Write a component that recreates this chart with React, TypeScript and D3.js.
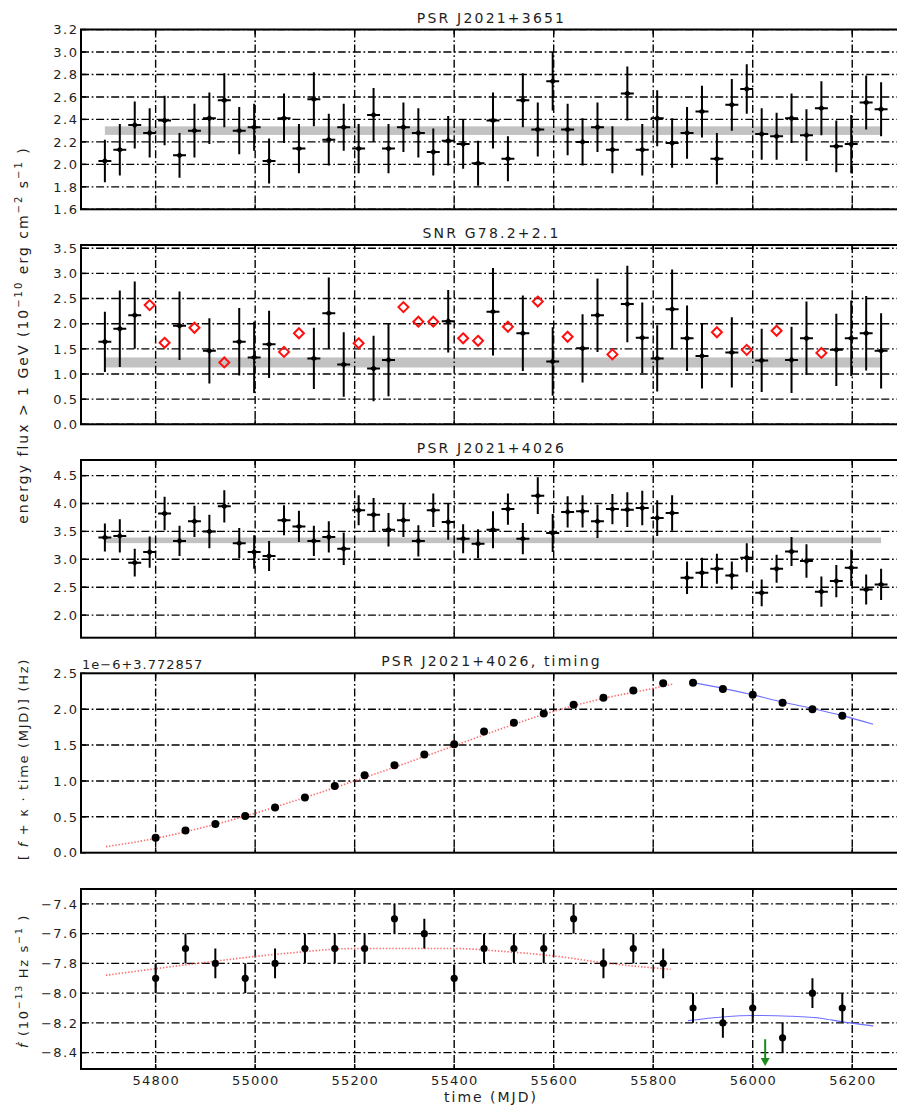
import React from "react";
import * as d3 from "d3";

// ---------------------------------------------------------------------------
// Data
// ---------------------------------------------------------------------------

// 30-day light-curve bins (MJD of bin centre)
const binTimes = [
  54698, 54728, 54758, 54788, 54818, 54848, 54878, 54908, 54938, 54968,
  54998, 55028, 55058, 55088, 55118, 55148, 55178, 55208, 55238, 55268,
  55298, 55328, 55358, 55388, 55418, 55448, 55478, 55508, 55538, 55568,
  55598, 55628, 55658, 55688, 55718, 55748, 55778, 55808, 55838, 55868,
  55898, 55928, 55958, 55988, 56018, 56048, 56078, 56108, 56138, 56168,
  56198, 56228, 56258,
];
const binHalfWidth = 13;

// PSR J2021+3651 energy flux (1e-10 erg cm^-2 s^-1)
const psr3651Flux = [
  2.03, 2.13, 2.35, 2.28, 2.39, 2.08, 2.30, 2.41, 2.57, 2.30,
  2.33, 2.03, 2.41, 2.14, 2.58, 2.22, 2.33, 2.14, 2.44, 2.14,
  2.33, 2.28, 2.11, 2.21, 2.18, 2.01, 2.39, 2.05, 2.57, 2.31,
  2.74, 2.31, 2.20, 2.33, 2.13, 2.63, 2.13, 2.41, 2.19, 2.28,
  2.47, 2.05, 2.53, 2.67, 2.27, 2.25, 2.41, 2.26, 2.50, 2.16,
  2.18, 2.55, 2.49,
];
const psr3651Err = [
  0.19, 0.23, 0.21, 0.22, 0.22, 0.20, 0.24, 0.23, 0.24, 0.21,
  0.21, 0.20, 0.22, 0.22, 0.24, 0.23, 0.21, 0.22, 0.24, 0.22,
  0.22, 0.22, 0.21, 0.22, 0.22, 0.20, 0.25, 0.20, 0.24, 0.24,
  0.26, 0.23, 0.21, 0.22, 0.21, 0.24, 0.23, 0.25, 0.22, 0.23,
  0.23, 0.23, 0.23, 0.22, 0.23, 0.21, 0.22, 0.23, 0.24, 0.23,
  0.26, 0.24, 0.24,
];
const psr3651Mean = 2.30;
const psr3651MeanErr = 0.038;

// SNR G78.2+2.1 energy flux; null error = bin shown as open red diamond
const snrFlux = [
  1.64, 1.90, 2.17, 2.37, 1.62, 1.96, 1.92, 1.46, 1.23, 1.64,
  1.33, 1.59, 1.44, 1.81, 1.31, 2.21, 1.19, 1.61, 1.11, 1.28,
  2.33, 2.04, 2.04, 2.05, 1.71, 1.66, 2.24, 1.94, 1.81, 2.44,
  1.25, 1.74, 1.51, 2.17, 1.39, 2.39, 1.72, 1.31, 2.29, 1.71,
  1.36, 1.83, 1.43, 1.48, 1.27, 1.86, 1.28, 1.71, 1.42, 1.48,
  1.71, 1.81, 1.46,
];
const snrErr: (number | null)[] = [
  0.60, 0.76, 0.67, null, null, 0.68, null, 0.65, null, 0.67,
  0.71, 0.67, null, null, 0.61, 0.71, 0.64, null, 0.65, 0.72,
  null, null, null, 0.62, null, null, 0.87, null, 0.75, null,
  0.68, null, 0.68, 0.73, null, 0.76, 0.70, 0.66, 0.79, 0.65,
  0.65, null, 0.70, null, 0.63, null, 0.66, 0.73, null, 0.72,
  0.75, 0.74, 0.75,
];
const snrMean = 1.23;
const snrMeanErr = 0.1;

// PSR J2021+4026 energy flux
const psr4026Flux = [
  3.39, 3.42, 2.94, 3.13, 3.82, 3.33, 3.68, 3.50, 3.95, 3.29,
  3.13, 3.06, 3.70, 3.59, 3.33, 3.40, 3.19, 3.88, 3.80, 3.53,
  3.70, 3.33, 3.88, 3.67, 3.37, 3.28, 3.53, 3.90, 3.37, 4.14,
  3.47, 3.85, 3.86, 3.68, 3.90, 3.89, 3.92, 3.74, 3.83, 2.67,
  2.76, 2.83, 2.71, 3.03, 2.40, 2.83, 3.14, 2.97, 2.42, 2.61,
  2.85, 2.46, 2.55,
];
const psr4026Err = [
  0.25, 0.30, 0.25, 0.28, 0.30, 0.27, 0.28, 0.30, 0.29, 0.27,
  0.30, 0.27, 0.27, 0.28, 0.27, 0.28, 0.29, 0.27, 0.30, 0.30,
  0.30, 0.28, 0.30, 0.32, 0.26, 0.26, 0.33, 0.28, 0.28, 0.33,
  0.34, 0.28, 0.29, 0.30, 0.27, 0.31, 0.31, 0.32, 0.32, 0.29,
  0.27, 0.27, 0.25, 0.26, 0.24, 0.25, 0.26, 0.30, 0.27, 0.29,
  0.33, 0.27, 0.28,
];
const psr4026Mean = 3.34;
const psr4026MeanErr = 0.05;

// Timing solutions, 60-day spacing
const timingEpochs = [
  54800, 54860, 54920, 54980, 55040, 55100, 55160, 55220, 55280, 55340,
  55400, 55460, 55520, 55580, 55640, 55700, 55760, 55820, 55880, 55940,
  56000, 56060, 56120, 56180,
];
// f + kappa*t, in units of 1e-6 Hz above 3.772857 Hz
const freqOffset = [
  0.21, 0.31, 0.40, 0.51, 0.63, 0.77, 0.93, 1.08, 1.22, 1.37,
  1.51, 1.69, 1.81, 1.94, 2.06, 2.16, 2.26, 2.36, 2.37, 2.28,
  2.20, 2.09, 2.00, 1.91,
];
const freqFitBefore: [number, number][] = [
  [54700, 0.085], [54800, 0.20], [54900, 0.36], [55000, 0.55], [55100, 0.77],
  [55200, 1.00], [55300, 1.24], [55400, 1.49], [55500, 1.74], [55600, 1.97],
  [55700, 2.15], [55800, 2.29], [55840, 2.35],
];
const freqFitAfter: [number, number][] = [
  [55880, 2.37], [55940, 2.29], [56000, 2.20], [56060, 2.10], [56120, 2.01],
  [56180, 1.91], [56242, 1.79],
];

// Spin-down rate (1e-13 Hz/s)
const fdot = [
  -7.9, -7.7, -7.8, -7.9, -7.8, -7.7, -7.7, -7.7, -7.5, -7.6,
  -7.9, -7.7, -7.7, -7.7, -7.5, -7.8, -7.7, -7.8, -8.1, -8.2,
  -8.1, -8.3, -8.0, -8.1,
];
const fdotErr = [
  0.1, 0.1, 0.1, 0.1, 0.1, 0.1, 0.1, 0.1, 0.1, 0.1,
  0.09, 0.1, 0.1, 0.1, 0.1, 0.1, 0.1, 0.1, 0.1, 0.1,
  0.1, 0.1, 0.1, 0.1,
];
const fdotFitBefore: [number, number][] = [
  [54700, -7.88], [54860, -7.81], [55070, -7.73], [55200, -7.70], [55400, -7.70],
  [55500, -7.72], [55600, -7.75], [55710, -7.80], [55835, -7.84],
];
const fdotFitAfter: [number, number][] = [
  [55870, -8.185], [55940, -8.16], [56000, -8.15], [56075, -8.155], [56140, -8.17],
  [56175, -8.19], [56242, -8.22],
];
const glitchEpoch = 56025;
const glitchArrow: [number, number] = [-8.31, -8.49];

const xTickValues = [54800, 55000, 55200, 55400, 55600, 55800, 56000, 56200];

// ---------------------------------------------------------------------------
// Layout / style
// ---------------------------------------------------------------------------

const W = 897;
const H = 1110;
const FONT = "'DejaVu Sans', Verdana, sans-serif";
const INK = "#1e1e1e";
const GRID_DASH = "8,2.7,1.7,2.7";

const x = d3.scaleLinear().domain([54650, 56300]).range([81, 902]);
const [X0, X1] = x.range();

type Y = d3.ScaleLinear<number, number>;

type PanelProps = {
  id: string;
  top: number;
  bottom: number;
  domain: [number, number];
  ticks: number[];
  fmt: (v: number) => string;
  title?: string;
  xLabels?: boolean;
  under?: (y: Y) => React.ReactNode;
  marks: (y: Y) => React.ReactNode;
};

function Panel({ id, top, bottom, domain, ticks, fmt, title, xLabels, under, marks }: PanelProps) {
  const y = d3.scaleLinear().domain(domain).range([bottom, top]);
  const tickLen = 5;
  return (
    <g>
      <clipPath id={id}>
        <rect x={X0} y={top} width={X1 - X0} height={bottom - top} />
      </clipPath>
      <g clipPath={`url(#${id})`}>
        {under && under(y)}
        {/* dash-dot grid */}
        {ticks.map((t) => (
          <line key={`h${t}`} x1={X0} x2={X1} y1={y(t)} y2={y(t)}
            stroke="#000" strokeWidth={1.4} strokeDasharray={GRID_DASH} />
        ))}
        {xTickValues.map((t) => (
          <line key={`v${t}`} x1={x(t)} x2={x(t)} y1={top} y2={bottom}
            stroke="#000" strokeWidth={1.4} strokeDasharray={GRID_DASH} />
        ))}
        {marks(y)}
      </g>
      {/* inward ticks */}
      {ticks.map((t) => (
        <g key={`t${t}`} stroke="#000" strokeWidth={1.4}>
          <line x1={X0} x2={X0 + tickLen} y1={y(t)} y2={y(t)} />
          <line x1={X1} x2={X1 - tickLen} y1={y(t)} y2={y(t)} />
        </g>
      ))}
      {xTickValues.map((t) => (
        <g key={`xt${t}`} stroke="#000" strokeWidth={1.4}>
          <line x1={x(t)} x2={x(t)} y1={top} y2={top + tickLen} />
          <line x1={x(t)} x2={x(t)} y1={bottom} y2={bottom - tickLen} />
        </g>
      ))}
      <rect x={X0} y={top} width={X1 - X0} height={bottom - top} fill="none" stroke="#000" strokeWidth={2} />
      {/* y tick labels */}
      {ticks.map((t) => (
        <text key={`l${t}`} x={77 + 1.5} y={y(t)} dy="0.36em" textAnchor="end"
          fontSize={13} letterSpacing={1.5} fill={INK}>
          {fmt(t)}
        </text>
      ))}
      {xLabels &&
        xTickValues.map((t) => (
          <text key={`xl${t}`} x={x(t) + 0.6} y={bottom + 16} textAnchor="middle"
            fontSize={13} letterSpacing={1.2} fill={INK}>
            {d3.format("d")(t)}
          </text>
        ))}
      {title && (
        <text x={(X0 + X1) / 2} y={top - 7} textAnchor="middle" fontSize={14}
          letterSpacing={2.2} fill={INK}>
          {title}
        </text>
      )}
    </g>
  );
}

// Light-curve marks: cross-shaped error bars plus a small filled diamond
function fluxMarks(values: number[], errs: (number | null)[], y: Y) {
  return values.map((v, i) => {
    const t = binTimes[i];
    const e = errs[i];
    const cx = x(t);
    const cy = y(v);
    if (e === null) {
      const r = 5;
      return (
        <path key={i} d={`M${cx},${cy - r}L${cx + r},${cy}L${cx},${cy + r}L${cx - r},${cy}Z`}
          fill="none" stroke="#ff1010" strokeWidth={2} />
      );
    }
    const rx = 3.6;
    const ry = 3.2;
    return (
      <g key={i}>
        <line x1={cx} x2={cx} y1={y(v - e)} y2={y(v + e)} stroke="#000" strokeWidth={2} />
        <line x1={x(t - binHalfWidth)} x2={x(t + binHalfWidth)} y1={cy} y2={cy} stroke="#000" strokeWidth={2} />
        <path d={`M${cx},${cy - ry}L${cx + rx},${cy}L${cx},${cy + ry}L${cx - rx},${cy}Z`} fill="#000" />
      </g>
    );
  });
}

function meanBand(mean: number, err: number, y: Y) {
  const t0 = binTimes[0];
  const t1 = binTimes[binTimes.length - 1];
  return (
    <rect x={x(t0)} width={x(t1) - x(t0)} y={y(mean + err)} height={y(mean - err) - y(mean + err)}
      fill="#c2c2c2" />
  );
}

function curve(pts: [number, number][], y: Y) {
  return d3
    .line<[number, number]>()
    .x((d) => x(d[0]))
    .y((d) => y(d[1]))
    .curve(d3.curveMonotoneX)(pts) as string;
}

const f1 = d3.format(".1f");

export default function App() {
  return (
    <div style={{ position: "absolute", left: 0, top: 0, width: W, height: H, background: "#fff" }}>
      <svg width={W} height={H} style={{ display: "block", fontFamily: FONT }}>
        <rect width={W} height={H} fill="#fff" />

        <Panel
          id="p1" top={29.5} bottom={209.3} domain={[1.6, 3.2]}
          ticks={[1.6, 1.8, 2.0, 2.2, 2.4, 2.6, 2.8, 3.0, 3.2]} fmt={f1}
          title="PSR J2021+3651"
          under={(y) => meanBand(psr3651Mean, psr3651MeanErr, y)}
          marks={(y) => fluxMarks(psr3651Flux, psr3651Err, y)}
        />
        <Panel
          id="p2" top={245} bottom={424.3} domain={[0, 3.565]}
          ticks={[0, 0.5, 1.0, 1.5, 2.0, 2.5, 3.0, 3.5]} fmt={f1}
          title="SNR G78.2+2.1"
          under={(y) => meanBand(snrMean, snrMeanErr, y)}
          marks={(y) => fluxMarks(snrFlux, snrErr, y)}
        />
        <Panel
          id="p3" top={460} bottom={637.7} domain={[1.595, 4.78]}
          ticks={[2.0, 2.5, 3.0, 3.5, 4.0, 4.5]} fmt={f1}
          title="PSR J2021+4026"
          under={(y) => meanBand(psr4026Mean, psr4026MeanErr, y)}
          marks={(y) => fluxMarks(psr4026Flux, psr4026Err, y)}
        />
        <Panel
          id="p4" top={673.3} bottom={852.7} domain={[0, 2.5]}
          ticks={[0, 0.5, 1.0, 1.5, 2.0, 2.5]} fmt={f1}
          title="PSR J2021+4026, timing"
          marks={(y) => (
            <g>
              <path d={curve(freqFitBefore, y)} fill="none" stroke="#ff3b3b" strokeOpacity={0.75}
                strokeWidth={1.6} strokeDasharray="1.4,1.8" />
              <path d={curve(freqFitAfter, y)} fill="none" stroke="#6f6fff" strokeWidth={1.1} />
              {freqOffset.map((v, i) => (
                <circle key={i} cx={x(timingEpochs[i])} cy={y(v)} r={4} fill="#000" />
              ))}
            </g>
          )}
        />
        <Panel
          id="p5" top={889} bottom={1069} domain={[-8.51, -7.3]}
          ticks={[-8.4, -8.2, -8.0, -7.8, -7.6, -7.4]} fmt={f1}
          xLabels
          marks={(y) => (
            <g>
              <path d={curve(fdotFitBefore, y)} fill="none" stroke="#ff3b3b" strokeOpacity={0.75}
                strokeWidth={1.6} strokeDasharray="1.4,1.8" />
              <path d={curve(fdotFitAfter, y)} fill="none" stroke="#6f6fff" strokeWidth={1.1} />
              {fdot.map((v, i) => (
                <g key={i}>
                  <line x1={x(timingEpochs[i])} x2={x(timingEpochs[i])} y1={y(v - fdotErr[i])}
                    y2={y(v + fdotErr[i])} stroke="#000" strokeWidth={2} />
                  <circle cx={x(timingEpochs[i])} cy={y(v)} r={3.6} fill="#000" />
                </g>
              ))}
              {/* glitch epoch marker */}
              <line x1={x(glitchEpoch)} x2={x(glitchEpoch)} y1={y(glitchArrow[0])}
                y2={y(glitchArrow[1]) - 7} stroke="#1b8a1b" strokeWidth={2} />
              <path
                d={`M${x(glitchEpoch) - 4.5},${y(glitchArrow[1]) - 8}L${x(glitchEpoch) + 4.5},${y(glitchArrow[1]) - 8}L${x(glitchEpoch)},${y(glitchArrow[1])}Z`}
                fill="#1b8a1b" />
            </g>
          )}
        />

        {/* axis offset for the timing panel */}
        <text x={82} y={669} fontSize={13} letterSpacing={1} fill={INK}>1e−6+3.772857</text>

        {/* shared y label for the three flux panels */}
        <text transform="translate(28,335) rotate(-90)" textAnchor="middle" fontSize={14}
          letterSpacing={2} fill={INK}>
          energy flux &gt; 1 GeV (10
          <tspan dy={-6} fontSize={10}>−10</tspan>
          <tspan dy={6}> erg cm</tspan>
          <tspan dy={-6} fontSize={10}>−2</tspan>
          <tspan dy={6}> s</tspan>
          <tspan dy={-6} fontSize={10}>−1</tspan>
          <tspan dy={6}> )</tspan>
        </text>

        <text transform="translate(28,759) rotate(-90)" textAnchor="middle" fontSize={13}
          letterSpacing={1.7} fill={INK}>
          [ <tspan fontStyle="italic">f</tspan> + κ · time (MJD)] (Hz)
        </text>

        <text transform="translate(28,981) rotate(-90)" textAnchor="middle" fontSize={13}
          letterSpacing={1.7} fill={INK}>
          <tspan fontStyle="italic">ḟ</tspan> (10
          <tspan dy={-6} fontSize={9.5}>−13</tspan>
          <tspan dy={6}> Hz s</tspan>
          <tspan dy={-6} fontSize={9.5}>−1</tspan>
          <tspan dy={6}> )</tspan>
        </text>

        <text x={491} y={1102} textAnchor="middle" fontSize={14} letterSpacing={2} fill={INK}>
          time (MJD)
        </text>
      </svg>
    </div>
  );
}
